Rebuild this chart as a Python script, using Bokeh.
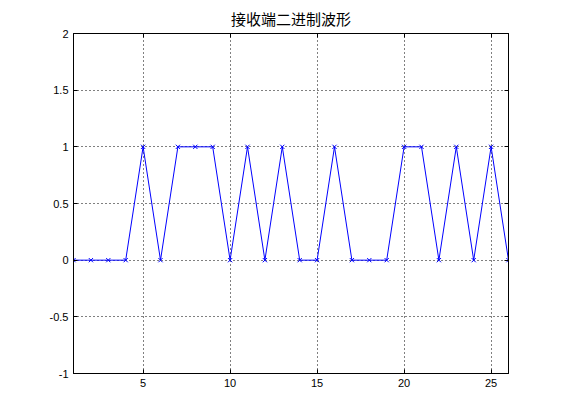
from bokeh.plotting import figure
from bokeh.models import LinearAxis, FixedTicker, Range1d
from bokeh.embed import file_html
from bokeh.resources import INLINE

x_vals = list(range(1, 27))
y_vals = [0, 0, 0, 0, 1, 0, 1, 1, 1, 0, 1, 0, 1, 0, 0, 1, 0, 0, 0, 1, 1, 0, 1, 0, 1, 0]
x_ticks = [5, 10, 15, 20, 25]
y_ticks = [-1, -0.5, 0, 0.5, 1, 1.5, 2]
title_text = "接收端二进制波形"

p = figure(width=553, height=412, output_backend="svg", toolbar_location=None,
           x_range=Range1d(1, 26), y_range=Range1d(-1, 2),
           min_border_left=73, min_border_right=45, min_border_top=32, min_border_bottom=39)
p.title.text = title_text
p.title.text_font = "Noto Sans CJK SC"
p.title.text_font_size = "15px"
p.title.text_font_style = "normal"
p.title.text_color = "black"
p.title.align = "center"
p.title.offset = 0
p.title.standoff = 10

p.background_fill_color = "white"
p.border_fill_color = "white"
p.outline_line_color = "black"
p.outline_line_width = 1

def style_axis(ax, labels=True):
    ax.axis_line_color = "black"
    ax.major_tick_line_color = "black"
    ax.major_tick_in = 4
    ax.major_tick_out = 0
    ax.minor_tick_line_color = None
    ax.major_label_text_font = "Liberation Sans"
    ax.major_label_text_font_size = "11px"
    ax.major_label_text_color = "black"
    ax.major_label_standoff = 5
    if not labels:
        ax.major_label_text_font_size = "0px"
        ax.major_label_text_color = None

p.xaxis.ticker = FixedTicker(ticks=x_ticks)
p.yaxis.ticker = FixedTicker(ticks=y_ticks)
p.yaxis.major_label_overrides = {-1: "-1", -0.5: "-0.5", 0: "0", 0.5: "0.5", 1: "1", 1.5: "1.5", 2: "2"}
style_axis(p.xaxis[0])
style_axis(p.yaxis[0])

top = LinearAxis(ticker=FixedTicker(ticks=x_ticks))
right = LinearAxis(ticker=FixedTicker(ticks=y_ticks))
style_axis(top, labels=False)
style_axis(right, labels=False)
p.add_layout(top, "above")
p.add_layout(right, "right")

for g in (p.xgrid, p.ygrid):
    g.grid_line_color = "black"
    g.grid_line_dash = "1 3"
    g.grid_line_width = 1
    g.grid_line_alpha = 1.0
p.xgrid.ticker = FixedTicker(ticks=x_ticks)
p.ygrid.ticker = FixedTicker(ticks=[-0.5, 0, 0.5, 1, 1.5])

p.line(x_vals, y_vals, line_color="#0000ff", line_width=1)
p.scatter(x_vals, y_vals, marker="x", size=6, line_color="#0000ff", line_width=1)

open("out.html", "w").write(file_html(p, INLINE))
